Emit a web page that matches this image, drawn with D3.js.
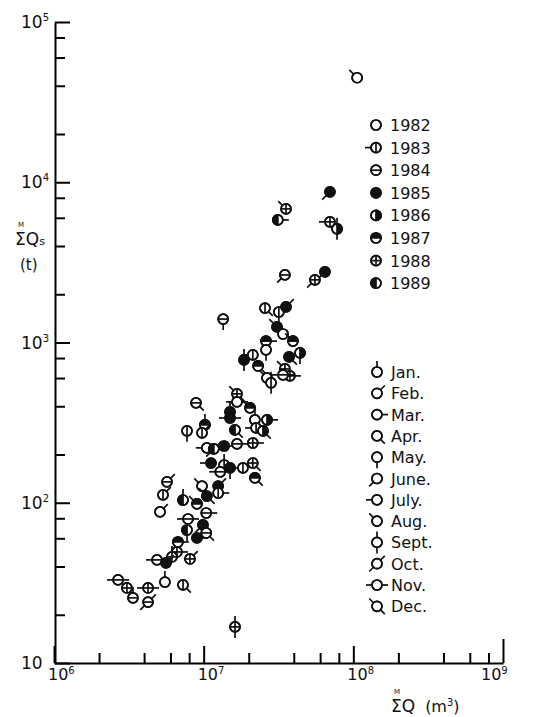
<!DOCTYPE html>
<html>
<head>
<meta charset="utf-8">
<script src="https://cdn.jsdelivr.net/npm/d3@7"></script>
<style>
  body { margin: 0; background: #fff; }
  text { font-family: "DejaVu Sans", sans-serif; fill: #111; }
</style>
</head>
<body>
<div id="chart"></div>
<script>
// Legend entries
const yearLabels = ["1982", "1983", "1984", "1985", "1986", "1987", "1988", "1989"];
const monthLabels = ["Jan.", "Feb.", "Mar.", "Apr.", "May.", "June.", "July.", "Aug.", "Sept.", "Oct.", "Nov.", "Dec."];

// Observations: year, month (1-12), cumulative runoff (m3), cumulative sediment (t)
const obsYear = [1982, 1985, 1988, 1989, 1988, 1986, 1984, 1985, 1988, 1983,
                 1983, 1985, 1984, 1985, 1982, 1987, 1987, 1982, 1983, 1985,
                 1986, 1985, 1987, 1988, 1988, 1984, 1982, 1983, 1984, 1988,
                 1982, 1985, 1987, 1987, 1983, 1983, 1985, 1989, 1982, 1986,
                 1983, 1986, 1982, 1989, 1985, 1984, 1988, 1985, 1983, 1985,
                 1984, 1983, 1988, 1987, 1984, 1983, 1982, 1989, 1982, 1985,
                 1983, 1985, 1987, 1984, 1984, 1985, 1989, 1985, 1984, 1987,
                 1988, 1988, 1984, 1985, 1988, 1982, 1983, 1984, 1988, 1984,
                 1988, 1984, 1988];
const obsMonth = [8, 6, 8, 3, 7, 9, 6, 6, 6, 4,
                  5, 2, 5, 8, 8, 8, 3, 5, 7, 9,
                  5, 4, 4, 8, 3, 11, 8, 9, 4, 12,
                  11, 1, 8, 1, 5, 2, 11, 4, 1, 3,
                  11, 4, 7, 10, 3, 3, 3, 7, 9, 5,
                  11, 7, 4, 4, 2, 2, 2, 1, 8, 2,
                  3, 12, 8, 3, 11, 6, 5, 3, 4, 3,
                  3, 1, 7, 2, 2, 1, 4, 11, 4, 1,
                  11, 10, 9];
const obsQ = [1.06e8, 6.98e7, 3.55e7, 3.13e7, 6.98e7, 7.78e7, 3.49e7, 6.46e7, 5.54e7, 2.57e7,
              3.18e7, 3.55e7, 1.35e7, 3.09e7, 3.39e7, 3.95e7, 2.61e7, 2.61e7, 2.13e7, 1.86e7,
              4.40e7, 3.72e7, 2.31e7, 3.49e7, 3.77e7, 3.39e7, 2.65e7, 2.82e7, 8.89e6, 1.67e7,
              1.67e7, 1.50e7, 2.04e7, 1.02e7, 7.74e6, 9.75e6, 1.50e7, 1.62e7, 2.20e7, 2.65e7,
              2.24e7, 2.49e7, 1.05e7, 1.17e7, 1.37e7, 1.67e7, 2.13e7, 1.12e7, 1.37e7, 1.50e7,
              1.29e7, 1.83e7, 2.13e7, 2.20e7, 5.69e6, 5.35e6, 5.11e6, 7.28e6, 9.75e6, 1.25e7,
              1.25e7, 1.05e7, 9.02e6, 1.04e7, 7.86e6, 9.89e6, 7.74e6, 9.02e6, 1.04e7, 6.73e6,
              6.63e6, 6.14e6, 4.88e6, 5.60e6, 8.10e6, 5.51e6, 7.28e6, 2.68e6, 3.07e6, 3.37e6,
              4.25e6, 4.25e6, 1.62e7];
const obsQs = [44900, 8710, 6820, 5820, 5660, 5120, 2640, 2760, 2460, 1640,
               1550, 1670, 1400, 1250, 1130, 1020, 1020, 900, 837, 778,
               861, 813, 714, 684, 619, 628, 601, 560, 420, 478,
               426, 369, 391, 306, 281, 273, 338, 285, 329, 329,
               293, 281, 220, 217, 226, 233, 236, 177, 172, 165,
               156, 165, 177, 143, 135, 112, 87.7, 104, 127, 127,
               115, 110, 98.4, 86.3, 79.2, 72.7, 67.6, 60.3, 64.8, 56.9,
               49.3, 45.9, 44.0, 42.1, 44.6, 32.0, 30.7, 33.0, 29.4, 25.5,
               29.4, 24.0, 16.8];

// Axis ticks
const xExp = [6, 7, 8, 9];
const yExp = [1, 2, 3, 4, 5];
const minorSteps = [2, 4, 6, 8];

const width = 556, height = 717;
const svg = d3.select("#chart").append("svg")
    .attr("width", width)
    .attr("height", height);

const x = d3.scaleLog().domain([1e6, 1e9]).range([54, 503]);
const y = d3.scaleLog().domain([10, 1e5]).range([663, 22]);

const xMinor = [];
xExp.slice(0, 3).forEach(e => minorSteps.forEach(m => xMinor.push(m * Math.pow(10, e))));
const yMinor = [];
yExp.slice(0, 4).forEach(e => minorSteps.forEach(m => yMinor.push(m * Math.pow(10, e))));

// Bottom axis: minor and major ticks point inward
const xAxisG = svg.append("g").attr("transform", "translate(0,663)").attr("stroke-width", 2);
xAxisG.call(d3.axisBottom(x).tickValues(xMinor).tickSize(-10).tickSizeOuter(0).tickFormat(""));
xAxisG.append("g").call(d3.axisBottom(x).tickValues(xExp.slice(0, 3).map(e => Math.pow(10, e)))
    .tickSize(-17).tickSizeOuter(0).tickFormat(""))
    .select(".domain").remove();
xAxisG.append("g").call(d3.axisBottom(x).tickValues([1e9])
    .tickSize(-24).tickSizeOuter(0).tickFormat(""))
    .select(".domain").remove();

// Left axis
const yAxisG = svg.append("g").attr("transform", "translate(55,0)").attr("stroke-width", 2);
yAxisG.call(d3.axisLeft(y).tickValues(yMinor).tickSize(-10).tickSizeOuter(0).tickFormat(""));
yAxisG.append("g").call(d3.axisLeft(y).tickValues(yExp.map(e => Math.pow(10, e)))
    .tickSize(-15).tickSizeOuter(0).tickFormat(""))
    .select(".domain").remove();

// Tick labels as 10 with superscript exponents
xExp.forEach(e => {
    const t = svg.append("text")
        .attr("x", e === 9 ? x(Math.pow(10, e)) - 22 : x(Math.pow(10, e)) - 6)
        .attr("y", 680)
        .style("font-size", "16px");
    t.append("tspan").text("10");
    t.append("tspan").attr("dy", -6).style("font-size", "10px").text(e);
});
yExp.forEach(e => {
    const t = svg.append("text")
        .attr("x", 21)
        .attr("y", y(Math.pow(10, e)) + 6)
        .style("font-size", "17px");
    t.append("tspan").text("10");
    if (e > 1) t.append("tspan").attr("dy", -7).style("font-size", "10px").text(e);
});

// Axis titles
const yTitle = svg.append("text").attr("x", 15).attr("y", 245).style("font-size", "17px");
yTitle.append("tspan").text("ΣQ");
yTitle.append("tspan").style("font-size", "11px").text("s");
svg.append("text").attr("x", 18).attr("y", 227).style("font-size", "7px").text("M");
svg.append("text").attr("x", 20).attr("y", 270).style("font-size", "15px").text("(t)");

const xTitle = svg.append("text").attr("x", 391).attr("y", 712).style("font-size", "17px");
xTitle.append("tspan").text("ΣQ");
xTitle.append("tspan").attr("dx", 10).style("font-size", "16px").text("(m");
xTitle.append("tspan").attr("dy", -6).style("font-size", "10px").text("3");
xTitle.append("tspan").attr("dy", 6).style("font-size", "16px").text(")");
svg.append("text").attr("x", 394).attr("y", 694).style("font-size", "7px").text("M");

// Marker drawing: fill pattern encodes year, outer ticks encode month
const monthAngles = [[0], [45], [90], [135], [180], [225], [270], [315],
                     [0, 180], [45, 225], [90, 270], [315, 135]];
const r = 5;

function drawMarker(g, year, month) {
    const k = year - 1982;
    g.append("circle").attr("r", r).attr("fill", k === 3 ? "#111" : "#fff");
    if (k === 4) g.append("path").attr("d", `M0,${-r}A${r},${r} 0 0 1 0,${r}Z`).attr("fill", "#111");
    if (k === 7) g.append("path").attr("d", `M0,${-r}A${r},${r} 0 0 0 0,${r}Z`).attr("fill", "#111");
    if (k === 5) g.append("path").attr("d", `M${-r},0A${r},${r} 0 0 1 ${r},0Z`).attr("fill", "#111");
    if (k === 1 || k === 6) g.append("line").attr("y1", -r).attr("y2", r);
    if (k === 2 || k === 6) g.append("line").attr("x1", -r).attr("x2", r);
    g.append("circle").attr("r", r).attr("fill", "none");
    if (month) {
        monthAngles[month - 1].forEach(a => {
            const rad = a * Math.PI / 180;
            g.append("line")
                .attr("x1", Math.sin(rad) * r).attr("y1", -Math.cos(rad) * r)
                .attr("x2", Math.sin(rad) * (r + 6)).attr("y2", -Math.cos(rad) * (r + 6));
        });
    }
}

const pts = svg.append("g").attr("stroke", "#111").attr("stroke-width", 1.7);
obsQ.forEach((q, i) => {
    const g = pts.append("g").attr("transform", `translate(${x(q)},${y(obsQs[i])})`);
    drawMarker(g, obsYear[i], obsMonth[i]);
});

// Legends
const legYear = svg.append("g");
yearLabels.forEach((lab, i) => {
    const yy = 125 + i * 22.6;
    const g = legYear.append("g").attr("transform", `translate(376,${yy})`)
        .attr("stroke", "#111").attr("stroke-width", 1.7);
    drawMarker(g, +lab, i === 1 ? 7 : 0);
    legYear.append("text").attr("x", 390).attr("y", yy + 6).style("font-size", "16px").text(lab);
});
const legMonth = svg.append("g");
monthLabels.forEach((lab, i) => {
    const yy = 372 + i * 21.3;
    const g = legMonth.append("g").attr("transform", `translate(377,${yy})`)
        .attr("stroke", "#111").attr("stroke-width", 1.7);
    drawMarker(g, 1982, i + 1);
    legMonth.append("text").attr("x", 391).attr("y", yy + 6).style("font-size", "16px").text(lab);
});
</script>
</body>
</html>
